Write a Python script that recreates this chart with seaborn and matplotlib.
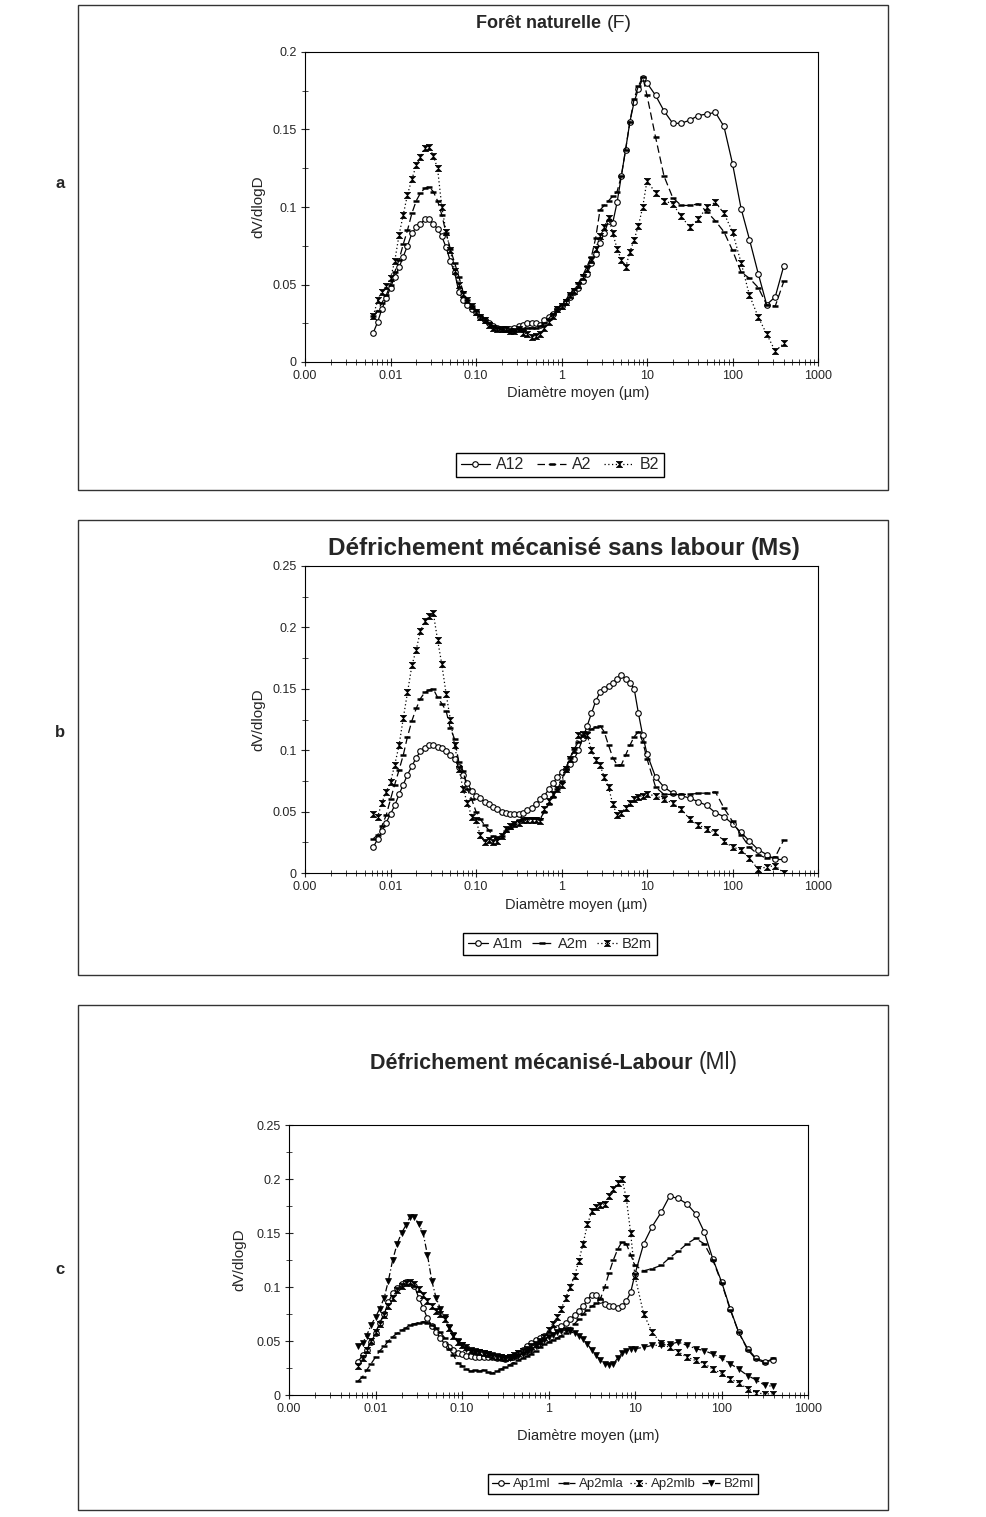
import matplotlib
matplotlib.use("Agg")
import matplotlib.pyplot as plt
from matplotlib.patches import Rectangle
from matplotlib.ticker import FixedLocator, FuncFormatter, MultipleLocator
import seaborn as sns

sns.set_style("white")
plt.rcParams['font.family'] = ['Liberation Sans', 'DejaVu Sans']

# mean diameter (µm), shared by every curve
diam = [0.0063, 0.0071, 0.0079, 0.0089, 0.0100, 0.0112, 0.0126, 0.0141, 0.0158, 0.0178,
        0.0200, 0.0224, 0.0251, 0.0282, 0.0316, 0.0355, 0.0398, 0.0447, 0.0501, 0.0562,
        0.0631, 0.0708, 0.0794, 0.0891, 0.100, 0.112, 0.126, 0.141, 0.158, 0.178,
        0.200, 0.224, 0.251, 0.282, 0.316, 0.355, 0.398, 0.447, 0.501, 0.562,
        0.631, 0.708, 0.794, 0.891, 1.00, 1.12, 1.26, 1.41, 1.58, 1.78,
        2.00, 2.24, 2.51, 2.82, 3.16, 3.55, 3.98, 4.47, 5.01, 5.62,
        6.31, 7.08, 7.94, 8.91, 10.0, 12.6, 15.8, 20.0, 25.1, 31.6,
        39.8, 50.1, 63.1, 79.4, 100, 126, 158, 200, 251, 316,
        398]

# --- a : Forêt naturelle (F)
a_A12 = [0.019, 0.026, 0.034, 0.041, 0.048, 0.055, 0.061, 0.068, 0.075, 0.083,
         0.087, 0.089, 0.092, 0.092, 0.089, 0.086, 0.081, 0.074, 0.065, 0.058,
         0.045, 0.040, 0.037, 0.034, 0.032, 0.029, 0.027, 0.025, 0.023, 0.022,
         0.021, 0.021, 0.021, 0.022, 0.023, 0.024, 0.025, 0.025, 0.025, 0.024,
         0.027, 0.029, 0.031, 0.034, 0.036, 0.039, 0.042, 0.045, 0.048, 0.052,
         0.057, 0.064, 0.070, 0.077, 0.083, 0.091, 0.090, 0.103, 0.120, 0.137,
         0.155, 0.168, 0.176, 0.183, 0.180, 0.172, 0.162, 0.154, 0.154, 0.156,
         0.159, 0.160, 0.161, 0.152, 0.128, 0.099, 0.079, 0.057, 0.037, 0.042,
         0.062]
a_A2 = [0.030, 0.033, 0.038, 0.043, 0.050, 0.058, 0.066, 0.076, 0.085, 0.096,
        0.104, 0.109, 0.112, 0.113, 0.110, 0.104, 0.095, 0.083, 0.073, 0.064,
        0.055, 0.045, 0.040, 0.036, 0.033, 0.030, 0.027, 0.025, 0.023, 0.022,
        0.021, 0.020, 0.020, 0.020, 0.021, 0.021, 0.022, 0.022, 0.022, 0.023,
        0.025, 0.028, 0.031, 0.034, 0.037, 0.040, 0.044, 0.047, 0.051, 0.056,
        0.062, 0.068, 0.080, 0.098, 0.101, 0.104, 0.107, 0.110, 0.120, 0.137,
        0.155, 0.170, 0.178, 0.184, 0.172, 0.145, 0.120, 0.106, 0.101, 0.101,
        0.102, 0.097, 0.091, 0.084, 0.072, 0.058, 0.054, 0.048, 0.037, 0.036,
        0.052]
a_B2 = [0.030, 0.040, 0.045, 0.049, 0.054, 0.065, 0.082, 0.095, 0.108, 0.118,
        0.127, 0.132, 0.138, 0.139, 0.133, 0.125, 0.100, 0.084, 0.072, 0.059,
        0.050, 0.044, 0.040, 0.036, 0.032, 0.029, 0.027, 0.024, 0.022, 0.021,
        0.021, 0.021, 0.020, 0.020, 0.021, 0.019, 0.018, 0.016, 0.017, 0.018,
        0.022, 0.026, 0.030, 0.034, 0.036, 0.039, 0.043, 0.046, 0.050, 0.055,
        0.060, 0.066, 0.073, 0.081, 0.087, 0.093, 0.083, 0.073, 0.066, 0.061,
        0.071, 0.079, 0.088, 0.100, 0.117, 0.109, 0.104, 0.102, 0.094, 0.087,
        0.092, 0.100, 0.103, 0.096, 0.084, 0.064, 0.043, 0.029, 0.018, 0.007,
        0.012]

# --- b : Défrichement mécanisé sans labour (Ms)
b_A1m = [0.021, 0.028, 0.034, 0.041, 0.048, 0.055, 0.064, 0.072, 0.080, 0.087,
         0.094, 0.099, 0.102, 0.104, 0.104, 0.103, 0.102, 0.099, 0.096, 0.093,
         0.086, 0.080, 0.073, 0.067, 0.063, 0.061, 0.058, 0.056, 0.054, 0.052,
         0.050, 0.049, 0.048, 0.048, 0.048, 0.049, 0.051, 0.053, 0.056, 0.060,
         0.063, 0.068, 0.073, 0.078, 0.082, 0.085, 0.089, 0.093, 0.100, 0.110,
         0.120, 0.130, 0.140, 0.147, 0.150, 0.152, 0.155, 0.158, 0.161, 0.158,
         0.155, 0.150, 0.130, 0.112, 0.097, 0.078, 0.070, 0.065, 0.063, 0.061,
         0.058, 0.055, 0.049, 0.046, 0.040, 0.033, 0.026, 0.019, 0.015, 0.011,
         0.011]
b_A2m = [0.028, 0.031, 0.038, 0.047, 0.060, 0.072, 0.084, 0.096, 0.111, 0.124,
         0.134, 0.142, 0.147, 0.149, 0.150, 0.143, 0.138, 0.132, 0.118, 0.109,
         0.090, 0.083, 0.068, 0.060, 0.050, 0.044, 0.039, 0.035, 0.030, 0.029,
         0.030, 0.034, 0.037, 0.040, 0.043, 0.044, 0.045, 0.045, 0.045, 0.044,
         0.050, 0.056, 0.062, 0.068, 0.075, 0.085, 0.094, 0.101, 0.107, 0.112,
         0.115, 0.117, 0.119, 0.120, 0.115, 0.104, 0.094, 0.088, 0.088, 0.096,
         0.104, 0.111, 0.115, 0.107, 0.093, 0.070, 0.064, 0.064, 0.064, 0.064,
         0.065, 0.065, 0.066, 0.053, 0.042, 0.031, 0.021, 0.015, 0.012, 0.013,
         0.027]
b_B2m = [0.048, 0.046, 0.057, 0.066, 0.074, 0.088, 0.104, 0.126, 0.147, 0.169,
         0.182, 0.197, 0.205, 0.209, 0.212, 0.190, 0.170, 0.146, 0.125, 0.104,
         0.085, 0.068, 0.057, 0.046, 0.043, 0.031, 0.025, 0.027, 0.025, 0.026,
         0.030, 0.036, 0.038, 0.040, 0.041, 0.043, 0.043, 0.043, 0.043, 0.042,
         0.052, 0.059, 0.064, 0.068, 0.072, 0.085, 0.093, 0.100, 0.112, 0.113,
         0.112, 0.100, 0.092, 0.088, 0.078, 0.070, 0.056, 0.047, 0.049, 0.053,
         0.057, 0.060, 0.062, 0.063, 0.064, 0.063, 0.060, 0.057, 0.052, 0.044,
         0.039, 0.036, 0.033, 0.026, 0.021, 0.019, 0.012, 0.003, 0.005, 0.006,
         0.000]

# --- c : Défrichement mécanisé-Labour (Ml)
c_Ap1ml = [0.031, 0.037, 0.042, 0.049, 0.057, 0.067, 0.075, 0.086, 0.094, 0.099,
           0.103, 0.105, 0.104, 0.101, 0.090, 0.081, 0.071, 0.064, 0.058, 0.053,
           0.047, 0.044, 0.042, 0.039, 0.038, 0.036, 0.036, 0.035, 0.035, 0.035,
           0.035, 0.035, 0.034, 0.034, 0.033, 0.035, 0.036, 0.039, 0.042, 0.045,
           0.048, 0.051, 0.053, 0.055, 0.057, 0.060, 0.062, 0.064, 0.067, 0.070,
           0.074, 0.078, 0.082, 0.088, 0.093, 0.093, 0.088, 0.084, 0.082, 0.082,
           0.081, 0.082, 0.087, 0.095, 0.112, 0.140, 0.156, 0.169, 0.184, 0.182,
           0.177, 0.168, 0.151, 0.126, 0.105, 0.080, 0.058, 0.043, 0.034, 0.031,
           0.032]
c_Ap2mla = [0.013, 0.017, 0.023, 0.029, 0.035, 0.041, 0.045, 0.050, 0.054, 0.057,
            0.060, 0.062, 0.065, 0.066, 0.067, 0.068, 0.067, 0.065, 0.062, 0.058,
            0.053, 0.043, 0.037, 0.030, 0.027, 0.024, 0.022, 0.023, 0.022, 0.023,
            0.021, 0.020, 0.022, 0.024, 0.026, 0.028, 0.030, 0.032, 0.034, 0.036,
            0.038, 0.041, 0.044, 0.047, 0.049, 0.051, 0.053, 0.055, 0.057, 0.062,
            0.066, 0.070, 0.075, 0.079, 0.082, 0.085, 0.089, 0.100, 0.113, 0.125,
            0.135, 0.142, 0.140, 0.130, 0.120, 0.115, 0.117, 0.120, 0.127, 0.133,
            0.140, 0.145, 0.140, 0.125, 0.104, 0.079, 0.058, 0.042, 0.033, 0.030,
            0.034]
c_Ap2mlb = [0.027, 0.034, 0.042, 0.050, 0.058, 0.066, 0.074, 0.082, 0.090, 0.097,
            0.101, 0.104, 0.105, 0.103, 0.098, 0.093, 0.087, 0.082, 0.078, 0.075,
            0.070, 0.062, 0.055, 0.049, 0.046, 0.044, 0.042, 0.041, 0.040, 0.039,
            0.038, 0.036, 0.035, 0.035, 0.034, 0.035, 0.037, 0.039, 0.041, 0.043,
            0.045, 0.047, 0.050, 0.054, 0.060, 0.066, 0.072, 0.080, 0.090, 0.100,
            0.110, 0.124, 0.140, 0.158, 0.170, 0.174, 0.176, 0.177, 0.184, 0.191,
            0.196, 0.200, 0.182, 0.150, 0.110, 0.075, 0.058, 0.048, 0.044, 0.040,
            0.035, 0.032, 0.029, 0.024, 0.020, 0.015, 0.011, 0.006, 0.002, 0.001,
            0.001]
c_B2ml = [0.045, 0.048, 0.055, 0.065, 0.072, 0.080, 0.090, 0.106, 0.125, 0.140,
          0.150, 0.157, 0.165, 0.165, 0.158, 0.150, 0.130, 0.106, 0.090, 0.080,
          0.072, 0.063, 0.056, 0.050, 0.046, 0.043, 0.041, 0.040, 0.040, 0.039,
          0.038, 0.037, 0.036, 0.035, 0.034, 0.034, 0.035, 0.036, 0.038, 0.040,
          0.042, 0.045, 0.048, 0.051, 0.054, 0.056, 0.058, 0.059, 0.060, 0.059,
          0.057, 0.055, 0.052, 0.047, 0.042, 0.037, 0.032, 0.029, 0.028, 0.029,
          0.034, 0.039, 0.041, 0.043, 0.043, 0.044, 0.046, 0.046, 0.047, 0.049,
          0.046, 0.043, 0.041, 0.038, 0.034, 0.029, 0.024, 0.018, 0.014, 0.009,
          0.008]

xtick_vals = [0.001, 0.01, 0.1, 1, 10, 100, 1000]
xtick_text = ["0.00", "0.01", "0.10", "1", "10", "100", "1000"]

W, H = 986, 1517
fx = lambda x: x / W
fy = lambda y: 1 - y / H

hourglass = [(-1, 1), (1, 1), (-1, -1), (1, -1), (-1, 1)]
STYLE = {
    'circle': dict(marker='o', markersize=4, markerfacecolor='white',
                   markeredgecolor='black', markeredgewidth=0.8, linestyle='-'),
    'dash': dict(marker='_', markersize=4, markeredgewidth=1.8,
                 markeredgecolor='black', linestyle=(0, (6, 3))),
    'x': dict(marker=hourglass, markersize=4.5, markerfacecolor='black',
              markeredgecolor='black', markeredgewidth=0.5, linestyle=(0, (1, 2))),
    'tri': dict(marker='v', markersize=4, markerfacecolor='black',
                markeredgecolor='black', markeredgewidth=0.5, linestyle=(0, (5, 2, 1, 2))),
}


def draw_panel(fig, letter, box, axrect, series, ymax, ystep, title, letter_y,
               ylab_x, xlab_xy, legend_xy, leg_font, leg_kw):
    # outer frame of the panel
    x0, y0, x1, y1 = box
    fig.add_artist(Rectangle((fx(x0), fy(y1)), fx(x1) - fx(x0), fy(y0) - fy(y1),
                             transform=fig.transFigure, fill=False, lw=1.0, ec='#333333'))
    l, t, r, b = axrect
    ax = fig.add_axes([fx(l), fy(b), fx(r) - fx(l), fy(t) - fy(b)])

    for name, vals, st in series:
        sns.lineplot(x=diam, y=vals, ax=ax, color='black', linewidth=0.9,
                     label=name, **STYLE[st])

    ax.set_xscale('log')
    ax.set_xlim(0.001, 1000)
    ax.set_ylim(0, ymax)
    ax.xaxis.set_major_locator(FixedLocator(xtick_vals))
    ax.set_xticklabels(xtick_text)
    minors = [m * 10.0 ** e for e in range(-3, 3) for m in range(2, 10)]
    ax.xaxis.set_minor_locator(FixedLocator(minors))
    ax.yaxis.set_major_locator(MultipleLocator(ystep))
    ax.yaxis.set_minor_locator(MultipleLocator(ystep / 2))
    ax.yaxis.set_major_formatter(FuncFormatter(lambda v, p: '%g' % round(v, 3)))
    ax.tick_params(which='major', direction='inout', length=6, width=0.8,
                   labelsize=9, bottom=True, left=True, pad=3)
    ax.tick_params(which='minor', direction='inout', length=4, width=0.6,
                   bottom=True, left=True)
    for s in ax.spines.values():
        s.set_color('black')
        s.set_linewidth(0.8)
    ax.set_xlabel('')
    ax.set_ylabel('')

    # title: bold main part + code in brackets
    main, code, tx, ty, tsize, csize, cweight = title
    fig.text(fx(tx), fy(ty), main, ha='right', va='baseline',
             fontsize=tsize, fontweight='bold')
    fig.text(fx(tx + 6), fy(ty), code, ha='left', va='baseline',
             fontsize=csize, fontweight=cweight)

    fig.text(fx(60), fy(letter_y), letter, ha='center', va='center',
             fontsize=12, fontweight='bold')
    fig.text(fx(ylab_x), (fy(t) + fy(b)) / 2, 'dV/dlogD', rotation=90,
             ha='center', va='center', fontsize=11)
    fig.text(fx(xlab_xy[0]), fy(xlab_xy[1]), 'Diamètre moyen (µm)',
             ha='center', va='center', fontsize=10.5)

    handles, labels = ax.get_legend_handles_labels()
    ax.legend(handles, labels, loc='center', ncol=len(labels),
              bbox_to_anchor=(fx(legend_xy[0]), fy(legend_xy[1])),
              bbox_transform=fig.transFigure, frameon=True, fancybox=False,
              edgecolor='black', framealpha=1, fontsize=leg_font,
              borderpad=0.3, borderaxespad=0, **leg_kw)
    ax.get_legend().get_frame().set_linewidth(1.0)
    return ax


fig = plt.figure(figsize=(W / 100, H / 100), dpi=100)

draw_panel(fig, 'a', (78, 5, 888, 490), (305, 52, 818, 362),
           [('A12', a_A12, 'circle'), ('A2', a_A2, 'dash'), ('B2', a_B2, 'x')],
           0.2, 0.05, ('Forêt naturelle', '(F)', 601, 28, 13, 14, 'normal'),
           183, 258, (578, 393), (560, 465), 11.5,
           dict(handlelength=1.8, handletextpad=0.4, columnspacing=0.8))

draw_panel(fig, 'b', (78, 520, 888, 975), (305, 566, 818, 873),
           [('A1m', b_A1m, 'circle'), ('A2m', b_A2m, 'dash'), ('B2m', b_B2m, 'x')],
           0.25, 0.05, ('Défrichement mécanisé sans labour', '(Ms)', 745, 555, 17.5, 17.5, 'bold'),
           733, 258, (576, 905), (560, 944), 10.5,
           dict(handlelength=1.4, handletextpad=0.35, columnspacing=0.6))

draw_panel(fig, 'c', (78, 1005, 888, 1510), (289, 1125, 808, 1395),
           [('Ap1ml', c_Ap1ml, 'circle'), ('Ap2mla', c_Ap2mla, 'dash'),
            ('Ap2mlb', c_Ap2mlb, 'x'), ('B2ml', c_B2ml, 'tri')],
           0.25, 0.05, ('Défrichement mécanisé-Labour', '(Ml)', 693, 1069, 15.5, 16.5, 'normal'),
           1270, 239, (588, 1436), (623, 1484), 9.5,
           dict(handlelength=1.3, handletextpad=0.3, columnspacing=0.5))

fig.savefig('out.png', dpi=100)
